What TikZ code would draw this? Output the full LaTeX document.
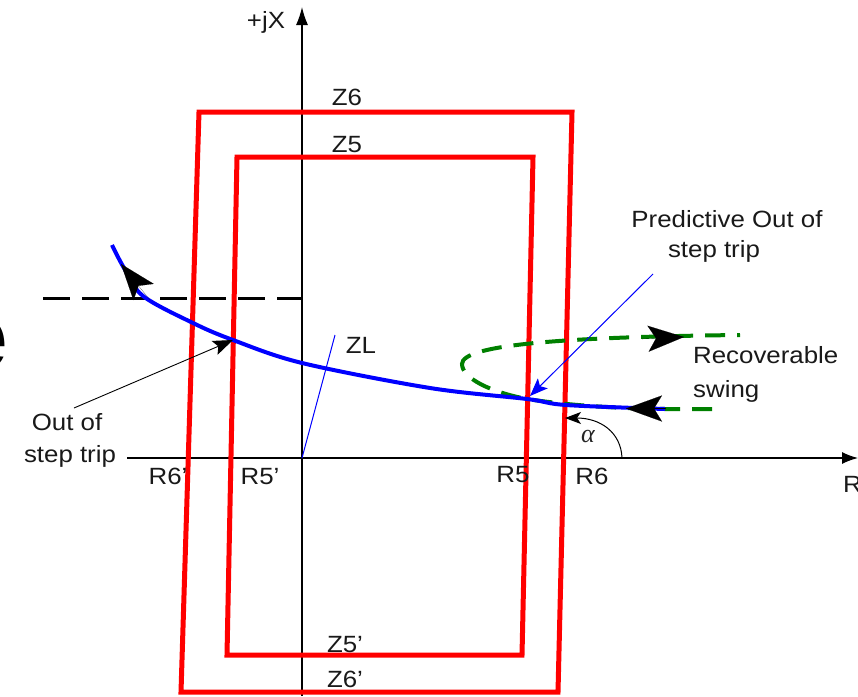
\documentclass[tikz,border=0pt]{standalone}
\usepackage{fontspec}
\setmainfont[FakeStretch=1.1]{Liberation Sans}
\newfontfamily\greekserif{Liberation Serif}
\usetikzlibrary{arrows.meta}
\tikzset{
  lbl/.style={font=\fontsize{23.5}{26}\selectfont, inner sep=0pt, anchor=base, text=black!90},
  axis/.style={line width=1.3pt, black},
  zone/.style={line width=5pt, red, line join=miter},
  traj/.style={line width=4pt, blue},
  swing/.style={line width=4pt, green!50!black, dash pattern=on 20pt off 12pt},
  bigtip/.style={-{Stealth[length=36pt,width=26pt,inset=8pt]}, line width=0.1pt, black},
  thinblue/.style={line width=1pt, blue},
}
\begin{document}
\begin{tikzpicture}[x=1pt,y=-1pt]
\useasboundingbox (0,0) rectangle (858,696);
% fragment of large letter at left edge
\node[font=\fontsize{100}{110}\selectfont\bfseries, inner sep=0pt, anchor=base east] (ee) at (9,370) {e};
% axes
\coordinate (O) at (302,458);
\coordinate (ytop) at (302,7);
\coordinate (ybot) at (302,696);
\coordinate (xl) at (127,458);
\coordinate (xr) at (858,458);
\draw[axis, -{Latex[length=18pt,width=12pt]}] (ybot) -- (ytop);
\draw[axis, -{Latex[length=16pt,width=12pt]}] (xl) -- (xr);
% zones
\draw[zone] (199,112) -- (572,112) -- (558,692) -- (181,692) -- cycle;
\draw[zone] (237,157) -- (533,157) -- (522,655) -- (227,655) -- cycle;
% dashed horizontal
\coordinate (dl) at (43,298);
\coordinate (dr) at (302,298);
\draw[line width=3pt, black, dash pattern=on 27pt off 12pt] (dl) -- (dr);
% ZL line
\coordinate (zl) at (335,335);
\draw[thinblue] (O) -- (zl);
% green swing
\draw[swing] (712,409) -- (665,409) .. controls (600,408) and (560,404) .. (527,399)
  .. controls (490,392) and (462,378) .. (462,364)
  .. controls (462,345) and (560,337) .. (740,335);
% trajectory
\draw[traj] plot[smooth, tension=0.55] coordinates {(112,245) (124,268) (143,296) (193,323) (233,340) (302,363) (430,388) (527,399) (566,405) (665,409)};
% arrow heads on curves
\coordinate (a1s) at (150,300);
\coordinate (a1e) at (121,264);
\draw[bigtip] (a1s) -- (a1e);
\coordinate (a2s) at (642,339);
\coordinate (a2e) at (684,337);
\draw[bigtip] (a2s) -- (a2e);
\coordinate (a3s) at (666,408.5);
\coordinate (a3e) at (626,408.5);
\draw[bigtip] (a3s) -- (a3e);
% alpha arc
\coordinate (arcS) at (622,458);
\coordinate (arcE) at (565,418);
\draw[line width=1pt, black, -{Stealth[length=16pt,width=12pt,inset=4pt]}] (arcS) .. controls (621,432) and (600,418) .. (arcE);
\node[inner sep=0pt, font=\fontsize{26}{28}\selectfont\greekserif\itshape, text=black!85] (alpha) at (588,436) {α};
% labels
\node[lbl] (jx) at (266,28) {+jX};
\node[lbl] (z6) at (347,105) {Z6};
\node[lbl] (z5) at (347,152) {Z5};
\node[lbl] (z5p) at (345,652) {Z5'};
\node[lbl] (z6p) at (345,687) {Z6'};
\node[lbl] (r6p) at (168,484) {R6'};
\node[lbl] (r5p) at (260,484) {R5'};
\node[lbl] (r5) at (513,482) {R5};
\node[lbl] (r6) at (592,484) {R6};
\node[lbl, anchor=base west] (rr) at (843,492) {R};
\node[lbl] (zlt) at (361,353) {ZL};
\node[lbl] (oos1) at (67,430) {Out of};
\node[lbl] (oos2) at (70,462) {step trip};
\node[lbl] (pred1) at (727,227) {Predictive Out of};
\node[lbl] (pred2) at (714,257) {step trip};
\node[lbl, anchor=base west] (rec1) at (693,363) {Recoverable};
\node[lbl, anchor=base west] (rec2) at (693,397) {swing};
% pointer arrows
\coordinate (oosS) at (74,408);
\coordinate (oosE) at (233,340);
\draw[line width=0.9pt, black, -{Stealth[length=20pt,width=15pt,inset=4pt]}] (oosS) -- (oosE);
\coordinate (predS) at (653,274);
\coordinate (predE) at (530,396);
\draw[thinblue, -{Stealth[length=18pt,width=14pt,inset=4pt]}] (predS) -- (predE);
\end{tikzpicture}
\end{document}
